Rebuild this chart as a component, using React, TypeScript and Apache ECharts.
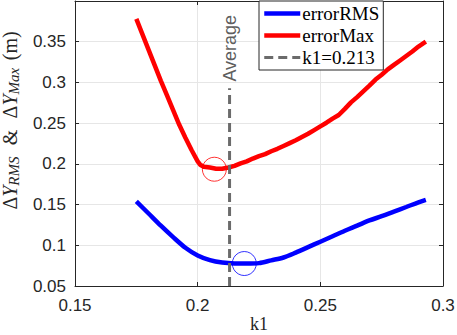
import React, { useEffect, useRef } from "react";
import * as echarts from "echarts";

const rmsK = [0.175, 0.18, 0.185, 0.19, 0.195, 0.2, 0.205, 0.21, 0.215, 0.22, 0.225, 0.23, 0.235, 0.24, 0.245, 0.25, 0.255, 0.26, 0.265, 0.27, 0.275, 0.28, 0.285, 0.29, 0.293];
const rmsVal = [0.154, 0.139, 0.124, 0.11, 0.097, 0.0875, 0.0818, 0.0788, 0.0777, 0.0776, 0.0781, 0.0815, 0.085, 0.091, 0.0977, 0.1044, 0.1111, 0.1178, 0.1241, 0.1305, 0.1357, 0.1414, 0.147, 0.1527, 0.1557];

const maxK = [0.175, 0.1775, 0.18, 0.1825, 0.185, 0.1875, 0.19, 0.1925, 0.195, 0.1975, 0.2, 0.201, 0.2025, 0.205, 0.2075, 0.21, 0.2125, 0.215, 0.2175, 0.22, 0.2225, 0.225, 0.2275, 0.23, 0.2325, 0.235, 0.2375, 0.24, 0.2425, 0.245, 0.2475, 0.25, 0.2525, 0.255, 0.2575, 0.26, 0.2625, 0.265, 0.2675, 0.27, 0.2725, 0.275, 0.2775, 0.28, 0.2825, 0.285, 0.2875, 0.29, 0.293];
const maxVal = [0.378, 0.359, 0.34, 0.321, 0.302, 0.284, 0.266, 0.248, 0.232, 0.217, 0.203, 0.199, 0.1965, 0.1955, 0.194, 0.194, 0.1955, 0.1975, 0.2005, 0.203, 0.2065, 0.2095, 0.212, 0.2155, 0.2185, 0.222, 0.2255, 0.229, 0.233, 0.237, 0.2415, 0.246, 0.2505, 0.2555, 0.26, 0.2675, 0.2755, 0.282, 0.289, 0.296, 0.3035, 0.3095, 0.316, 0.3215, 0.327, 0.3325, 0.338, 0.344, 0.35];

const avgK = 0.213;
const avgLineY = [0.05, 0.293];
const avgLabelY = 0.342;
const minMarkRms = [0.219, 0.0776];
const minMarkMax = [0.2068, 0.1934];

const xTicks = { min: 0.15, max: 0.3, interval: 0.05 };
const yTicks = { min: 0.05, max: 0.4, interval: 0.05 };

const AX = "#262626";
const SANS = "'Liberation Sans', Arial, sans-serif";
const SERIF = "'Liberation Serif', 'Times New Roman', serif";

export default function App() {
  const ref = useRef<HTMLDivElement>(null);
  useEffect(() => {
    if (!ref.current) return;
    const chart = echarts.init(ref.current, undefined, { renderer: "svg" });
    const fmt = (v: number) => (v > 0.39 ? "" : String(+v.toFixed(2)));
    const baseX = {
      type: "value" as const,
      min: xTicks.min,
      max: xTicks.max,
      interval: xTicks.interval,
      axisLine: { show: true, onZero: false, lineStyle: { color: AX, width: 1 } },
      axisTick: { show: true, inside: true, length: 4, lineStyle: { color: AX } },
    };
    const baseY = {
      type: "value" as const,
      min: yTicks.min,
      max: yTicks.max,
      interval: yTicks.interval,
      axisLine: { show: true, onZero: false, lineStyle: { color: AX, width: 1 } },
      axisTick: { show: true, inside: true, length: 4, lineStyle: { color: AX } },
    };
    chart.setOption({
      animation: false,
      backgroundColor: "#ffffff",
      grid: { left: 75, right: 14, top: 1, bottom: 49, containLabel: false, outerBoundsMode: "none" },
      xAxis: [
        {
          ...baseX,
          position: "bottom",
          axisLabel: { color: AX, fontSize: 17, fontFamily: SANS, margin: 11, formatter: (v: number) => String(+v.toFixed(2)) },
          splitLine: { show: true, lineStyle: { color: "#e6e6e6", width: 1 } },
          name: "k1",
          nameLocation: "middle",
          nameGap: 28,
          nameMoveOverlap: false,
          nameTextStyle: { fontFamily: SERIF, fontSize: 18, color: AX, lineHeight: 19 },
        },
        { ...baseX, position: "top", axisLabel: { show: false }, splitLine: { show: false } },
      ],
      yAxis: [
        {
          ...baseY,
          position: "left",
          axisLabel: { color: AX, fontSize: 17, fontFamily: SANS, margin: 9, formatter: fmt },
          splitLine: { show: true, lineStyle: { color: "#e6e6e6", width: 1 } },
          name: "{d|Δ}{i|Y}{s|RMS}{sp|   }{d|&}{sp|   }{d|Δ}{i|Y}{s|Max}{sp|  }{d|(m)}",
          nameLocation: "middle",
          nameGap: 54,
          nameMoveOverlap: false,
          nameRotate: 90,
          nameTextStyle: {
            color: AX,
            padding: [0, 0, 0, 46],
            rich: {
              d: { fontFamily: SERIF, fontSize: 20, color: AX, lineHeight: 21, verticalAlign: "top" },
              i: { fontFamily: SERIF, fontStyle: "italic", fontSize: 20, color: AX, lineHeight: 21, verticalAlign: "top" },
              s: { fontFamily: SERIF, fontStyle: "italic", fontSize: 15, color: AX, lineHeight: 21, verticalAlign: "bottom" },
              sp: { fontFamily: SERIF, fontSize: 15, lineHeight: 21 },
            },
          },
        },
        { ...baseY, position: "right", axisLabel: { show: false }, splitLine: { show: false } },
      ],
      legend: {
        orient: "vertical",
        left: 259,
        top: 1,
        padding: [3, 4, 3, 3],
        itemGap: 3,
        itemWidth: 36,
        itemHeight: 20,
        backgroundColor: "#ffffff",
        borderColor: AX,
        borderWidth: 1,
        borderRadius: 0,
        textStyle: { fontFamily: SERIF, fontSize: 19, color: "#000", padding: [0, 0, 0, -3] },
        itemStyle: { opacity: 0 },
        lineStyle: { width: "inherit" },
        data: ["errorRMS", "errorMax", "k1=0.213"],
      },
      series: [
        {
          name: "errorRMS",
          type: "line",
          data: rmsK.map((k, i) => [k, rmsVal[i]]),
          symbol: "none",
          smooth: 0.3,
          lineStyle: { color: "#0000ff", width: 4.5 },
          itemStyle: { color: "#0000ff" },
          z: 2,
        },
        {
          name: "errorMax",
          type: "line",
          data: maxK.map((k, i) => [k, maxVal[i]]),
          symbol: "none",
          lineStyle: { color: "#ff0000", width: 4.5 },
          itemStyle: { color: "#ff0000" },
          z: 3,
        },
        {
          name: "k1=0.213",
          type: "line",
          data: avgLineY.map((y) => [avgK, y]),
          symbol: "none",
          lineStyle: { color: "#6b6b6b", width: 3, type: [9, 5] },
          itemStyle: { color: "#6b6b6b" },
          z: 4,
        },
        {
          name: "avgLabel",
          type: "scatter",
          data: [[avgK, avgLabelY]],
          symbolSize: 0,
          label: {
            show: true,
            position: "inside",
            rotate: 90,
            formatter: "Average",
            fontFamily: SANS,
            fontSize: 18,
            color: "#333333",
          },
          z: 5,
        },
        {
          name: "minima",
          type: "scatter",
          data: [
            { value: minMarkMax, itemStyle: { borderColor: "#ff0000" } },
            { value: minMarkRms, itemStyle: { borderColor: "#0000ff" } },
          ],
          symbol: "circle",
          symbolSize: 24,
          itemStyle: { color: "rgba(0,0,0,0)", borderWidth: 1 },
          z: 6,
        },
      ],
    });
    return () => chart.dispose();
  }, []);
  return <div ref={ref} style={{ position: "absolute", left: 0, top: 0, width: 457, height: 335 }} />;
}
